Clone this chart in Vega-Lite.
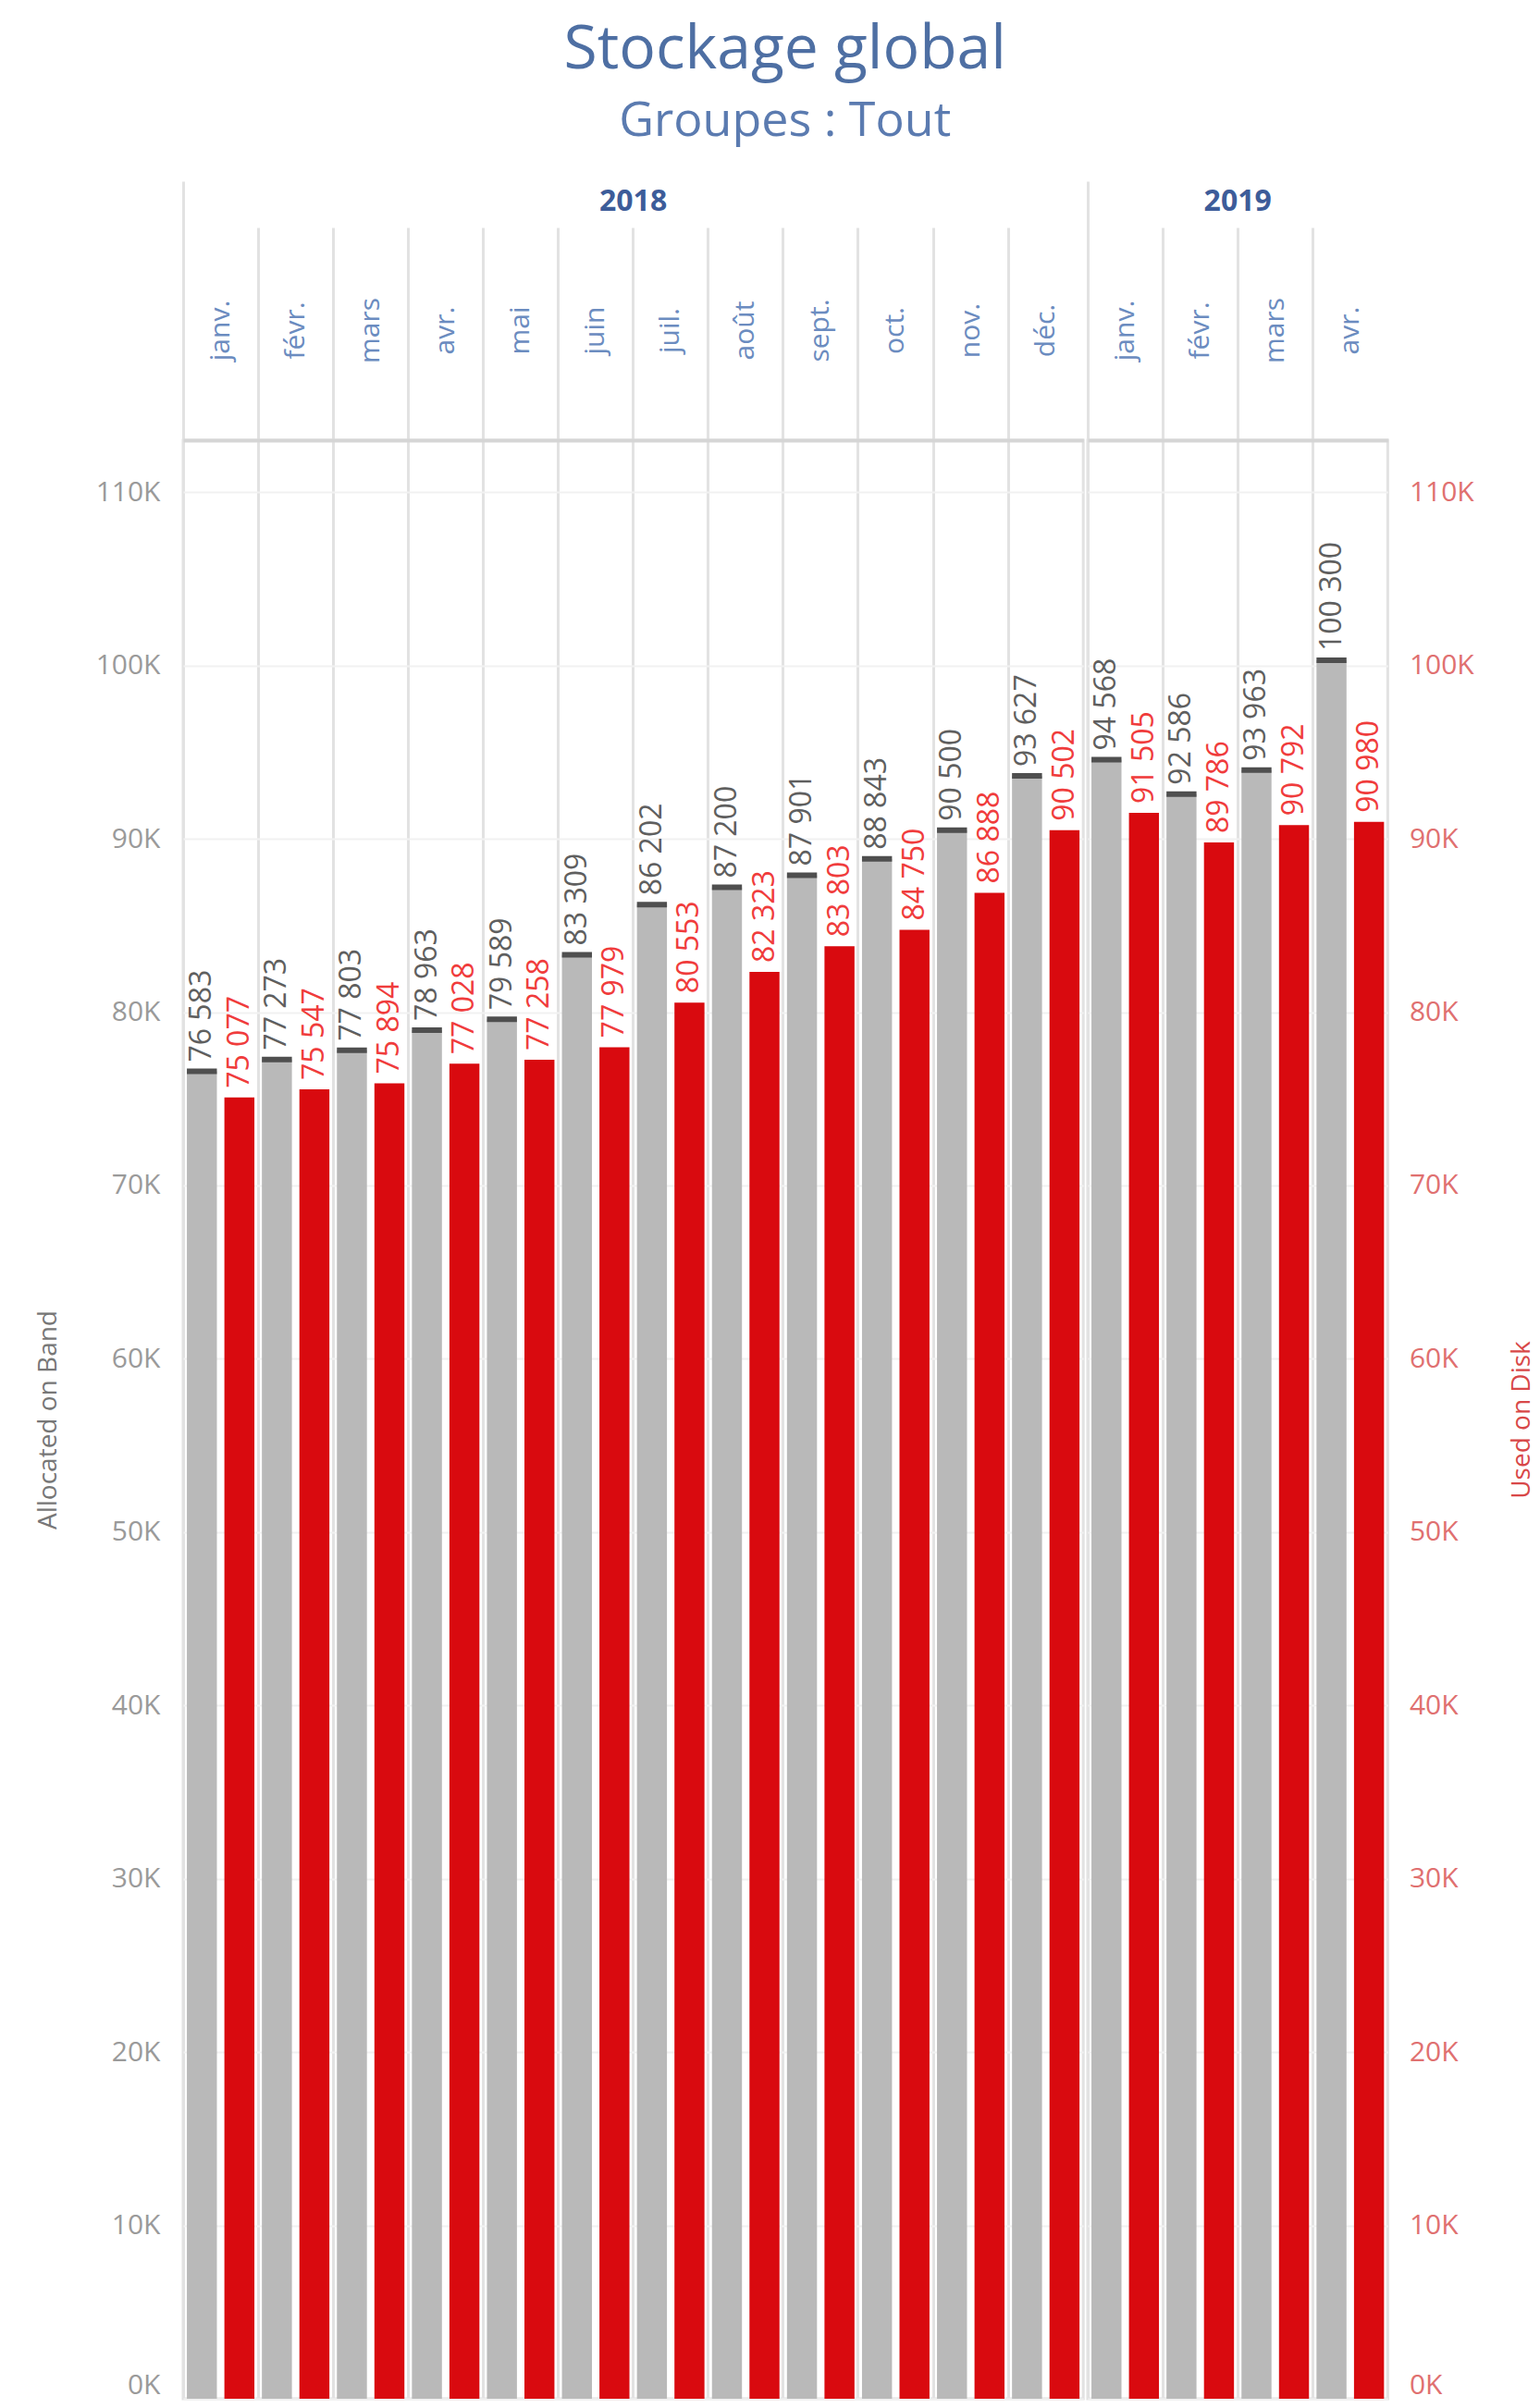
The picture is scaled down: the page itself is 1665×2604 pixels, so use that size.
{
  "$schema": "https://vega.github.io/schema/vega-lite/v6.json",
  "background": "white",
  "padding": {"left": 36, "top": 21, "right": 0, "bottom": 10},
  "title": {
    "text": "Stockage global",
    "subtitle": "Groupes : Tout",
    "anchor": "middle",
    "font": "Open Sans",
    "fontSize": 66,
    "fontWeight": "normal",
    "color": "#4e6fa3",
    "subtitleFont": "Open Sans",
    "subtitleFontSize": 52,
    "subtitleColor": "#5b7bb0",
    "subtitlePadding": 18,
    "offset": 35
  },
  "datasets": {
    "stockage": [
      {"annee": 2018, "mois": "janv.", "alloue": 76583, "utilise": 75077},
      {"annee": 2018, "mois": "févr.", "alloue": 77273, "utilise": 75547},
      {"annee": 2018, "mois": "mars", "alloue": 77803, "utilise": 75894},
      {"annee": 2018, "mois": "avr.", "alloue": 78963, "utilise": 77028},
      {"annee": 2018, "mois": "mai", "alloue": 79589, "utilise": 77258},
      {"annee": 2018, "mois": "juin", "alloue": 83309, "utilise": 77979},
      {"annee": 2018, "mois": "juil.", "alloue": 86202, "utilise": 80553},
      {"annee": 2018, "mois": "août", "alloue": 87200, "utilise": 82323},
      {"annee": 2018, "mois": "sept.", "alloue": 87901, "utilise": 83803},
      {"annee": 2018, "mois": "oct.", "alloue": 88843, "utilise": 84750},
      {"annee": 2018, "mois": "nov.", "alloue": 90500, "utilise": 86888},
      {"annee": 2018, "mois": "déc.", "alloue": 93627, "utilise": 90502},
      {"annee": 2019, "mois": "janv.", "alloue": 94568, "utilise": 91505},
      {"annee": 2019, "mois": "févr.", "alloue": 92586, "utilise": 89786},
      {"annee": 2019, "mois": "mars", "alloue": 93963, "utilise": 90792},
      {"annee": 2019, "mois": "avr.", "alloue": 100300, "utilise": 90980}
    ]
  },
  "spacing": 0,
  "hconcat": [
    {
      "data": {"name": "stockage"},
      "transform": [{"filter": "datum.annee === 2018"}],
      "width": {"step": 81.1, "for": "position"},
      "height": 2118,
      "title": {"text": "2018"},
      "encoding": {
        "x": {
          "field": "mois", "type": "ordinal", "sort": null, "title": null,
          "scale": {"paddingInner": 0, "paddingOuter": 0},
          "axis": {
            "orient": "top", "bandPosition": 0,
            "labelAngle": 270, "labelAlign": "center", "labelBaseline": "middle",
            "labelPadding": -161, "labelFontSize": 30, "labelColor": "#6b8cc0",
            "tickSize": 280, "tickColor": "#e2e2e2", "tickWidth": 3,
            "tickDash": {"condition": {"test": "datum.value !== 'janv.'", "value": [230, 1000]}, "value": []},
            "grid": true, "gridColor": "#e2e2e2", "gridWidth": 3,
            "domainColor": "#d5d5d5", "domainWidth": 4
          }
        },
        "xOffset": {"scale": {"domain": ["Alloué", "Utilisé"], "paddingInner": 0.2, "paddingOuter": 0.1}}
      },
      "layer": [
        {
          "encoding": {
            "y": {
              "field": "alloue", "type": "quantitative",
              "scale": {"domain": [0, 113000], "nice": false},
              "axis": {
                "orient": "left",
                "values": [0, 10000, 20000, 30000, 40000, 50000, 60000, 70000, 80000, 90000, 100000, 110000],
                "labelExpr": "(datum.value / 1000) + 'K'",
                "labelFontSize": 30, "labelColor": "#9a9a9a", "labelPadding": 25, "labelFlush": true,
                "ticks": false, "domain": false,
                "grid": true, "gridColor": "#f1f1f1", "gridWidth": 2,
                "title": "Allocated on Band", "titleFontSize": 28, "titleFontWeight": "normal",
                "titleColor": "#777777", "titlePadding": 37
              }
            }
          },
          "layer": [
            {
              "mark": {"type": "bar", "color": "#b9b9b9", "stroke": "#4f4f4f", "strokeWidth": 6, "strokeDash": [32.44, 10000]},
              "encoding": {"xOffset": {"datum": "Alloué"}}
            },
            {
              "mark": {"type": "text", "angle": 270, "align": "left", "baseline": "middle", "dx": 10, "fontSize": 32, "color": "#5f5f5f"},
              "encoding": {"xOffset": {"datum": "Alloué"}, "text": {"field": "alloue", "type": "quantitative", "format": ",d"}}
            }
          ]
        },
        {
          "encoding": {
            "y": {"field": "utilise", "type": "quantitative", "scale": {"domain": [0, 113000], "nice": false}, "axis": null}
          },
          "layer": [
            {
              "mark": {"type": "bar", "color": "#d90a0f"},
              "encoding": {"xOffset": {"datum": "Utilisé"}}
            },
            {
              "mark": {"type": "text", "angle": 270, "align": "left", "baseline": "middle", "dx": 10, "fontSize": 32, "color": "#f03c3c"},
              "encoding": {"xOffset": {"datum": "Utilisé"}, "text": {"field": "utilise", "type": "quantitative", "format": ",d"}}
            }
          ]
        }
      ],
      "resolve": {"scale": {"y": "independent"}}
    },
    {
      "data": {"name": "stockage"},
      "transform": [{"filter": "datum.annee === 2019"}],
      "width": {"step": 81.1, "for": "position"},
      "height": 2118,
      "title": {"text": "2019"},
      "encoding": {
        "x": {
          "field": "mois", "type": "ordinal", "sort": null, "title": null,
          "scale": {"paddingInner": 0, "paddingOuter": 0},
          "axis": {
            "orient": "top", "bandPosition": 0,
            "labelAngle": 270, "labelAlign": "center", "labelBaseline": "middle",
            "labelPadding": -161, "labelFontSize": 30, "labelColor": "#6b8cc0",
            "tickSize": 280, "tickColor": "#e2e2e2", "tickWidth": 3,
            "tickDash": {"condition": {"test": "datum.value !== 'janv.'", "value": [230, 1000]}, "value": []},
            "grid": true, "gridColor": "#e2e2e2", "gridWidth": 3,
            "domainColor": "#d5d5d5", "domainWidth": 4
          }
        },
        "xOffset": {"scale": {"domain": ["Alloué", "Utilisé"], "paddingInner": 0.2, "paddingOuter": 0.1}}
      },
      "layer": [
        {
          "encoding": {
            "y": {
              "field": "alloue", "type": "quantitative",
              "scale": {"domain": [0, 113000], "nice": false},
              "axis": {
                "orient": "left",
                "values": [0, 10000, 20000, 30000, 40000, 50000, 60000, 70000, 80000, 90000, 100000, 110000],
                "labels": false, "ticks": false, "domain": false, "title": null,
                "grid": true, "gridColor": "#f1f1f1", "gridWidth": 2
              }
            }
          },
          "layer": [
            {
              "mark": {"type": "bar", "color": "#b9b9b9", "stroke": "#4f4f4f", "strokeWidth": 6, "strokeDash": [32.44, 10000]},
              "encoding": {"xOffset": {"datum": "Alloué"}}
            },
            {
              "mark": {"type": "text", "angle": 270, "align": "left", "baseline": "middle", "dx": 10, "fontSize": 32, "color": "#5f5f5f"},
              "encoding": {"xOffset": {"datum": "Alloué"}, "text": {"field": "alloue", "type": "quantitative", "format": ",d"}}
            }
          ]
        },
        {
          "encoding": {
            "y": {
              "field": "utilise", "type": "quantitative",
              "scale": {"domain": [0, 113000], "nice": false},
              "axis": {
                "orient": "right",
                "values": [0, 10000, 20000, 30000, 40000, 50000, 60000, 70000, 80000, 90000, 100000, 110000],
                "labelExpr": "(datum.value / 1000) + 'K'",
                "labelFontSize": 30, "labelColor": "#e07070", "labelPadding": 23, "labelFlush": true,
                "ticks": false, "domain": false, "grid": false,
                "title": "Used on Disk", "titleFontSize": 28, "titleFontWeight": "normal",
                "titleColor": "#d84848", "titleAngle": 270, "titleBaseline": "top", "titlePadding": 38
              }
            }
          },
          "layer": [
            {
              "mark": {"type": "bar", "color": "#d90a0f"},
              "encoding": {"xOffset": {"datum": "Utilisé"}}
            },
            {
              "mark": {"type": "text", "angle": 270, "align": "left", "baseline": "middle", "dx": 10, "fontSize": 32, "color": "#f03c3c"},
              "encoding": {"xOffset": {"datum": "Utilisé"}, "text": {"field": "utilise", "type": "quantitative", "format": ",d"}}
            }
          ]
        }
      ],
      "resolve": {"scale": {"y": "independent"}}
    }
  ],
  "config": {
    "font": "Open Sans",
    "view": {"stroke": "#e2e2e2", "strokeWidth": 3},
    "title": {"fontSize": 32, "fontWeight": "bold", "color": "#3d5c99", "offset": -40, "anchor": "middle"},
    "locale": {
      "number": {"decimal": ",", "thousands": " ", "grouping": [3], "currency": ["", " €"]}
    }
  }
}
